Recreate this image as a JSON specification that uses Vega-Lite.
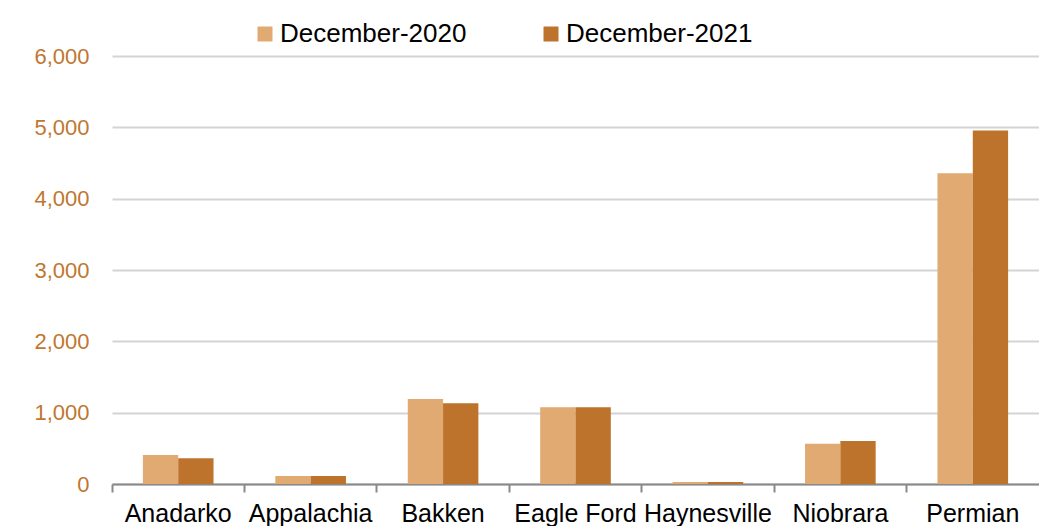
{
  "$schema": "https://vega.github.io/schema/vega-lite/v6.json",
  "width": 927,
  "height": 428,
  "autosize": "none",
  "padding": {"left": 112, "top": 56, "right": 0, "bottom": 42},
  "background": "white",
  "config": {"view": {"stroke": null}, "font": "Liberation Sans"},
  "data": {"values": [
    {"basin": "Anadarko", "period": "December-2020", "value": 407},
    {"basin": "Anadarko", "period": "December-2021", "value": 360},
    {"basin": "Appalachia", "period": "December-2020", "value": 112},
    {"basin": "Appalachia", "period": "December-2021", "value": 112},
    {"basin": "Bakken", "period": "December-2020", "value": 1192},
    {"basin": "Bakken", "period": "December-2021", "value": 1132},
    {"basin": "Eagle Ford", "period": "December-2020", "value": 1076},
    {"basin": "Eagle Ford", "period": "December-2021", "value": 1076},
    {"basin": "Haynesville", "period": "December-2020", "value": 28},
    {"basin": "Haynesville", "period": "December-2021", "value": 28},
    {"basin": "Niobrara", "period": "December-2020", "value": 565},
    {"basin": "Niobrara", "period": "December-2021", "value": 603},
    {"basin": "Permian", "period": "December-2020", "value": 4358},
    {"basin": "Permian", "period": "December-2021", "value": 4955}
  ]},
  "mark": {"type": "bar"},
  "encoding": {
    "x": {
      "field": "basin", "type": "nominal", "sort": null,
      "scale": {"paddingInner": 0, "paddingOuter": 0},
      "axis": {
        "title": null, "labelAngle": 0, "bandPosition": 0,
        "labelFontSize": 25, "labelColor": "#000000", "labelPadding": 9,
        "domainColor": "#898989", "domainWidth": 2,
        "tickColor": "#898989", "tickWidth": 2, "tickSize": 8,
        "grid": false
      }
    },
    "xOffset": {
      "field": "period", "type": "nominal",
      "scale": {"paddingInner": 0, "paddingOuter": 0.875}
    },
    "y": {
      "field": "value", "type": "quantitative",
      "scale": {"domain": [0, 6000], "nice": false},
      "axis": {
        "title": null, "values": [0, 1000, 2000, 3000, 4000, 5000, 6000],
        "format": ",d", "domain": false, "ticks": false,
        "labelFontSize": 22, "labelColor": "#C0772F", "labelPadding": 23,
        "gridColor": "#D4D4D4", "gridWidth": 2
      }
    },
    "color": {
      "field": "period", "type": "nominal",
      "scale": {"domain": ["December-2020", "December-2021"], "range": ["#E0AA72", "#BD732C"]},
      "legend": {
        "title": null, "orient": "none", "direction": "horizontal",
        "legendX": 140, "legendY": -35,
        "symbolType": "square", "symbolSize": 225, "symbolStrokeWidth": 0,
        "labelFontSize": 26, "labelColor": "#000000", "labelOffset": 2,
        "labelLimit": 0, "columnPadding": 71
      }
    }
  }
}
